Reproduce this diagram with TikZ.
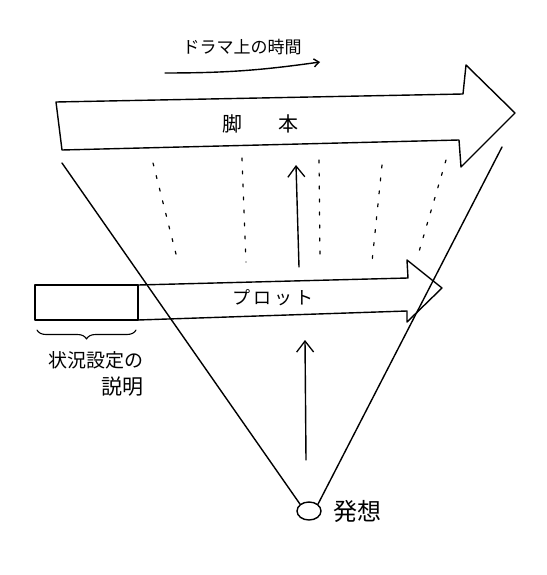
\documentclass[tikz,border=0pt]{standalone}
\usepackage{fontspec}
\setmainfont{Noto Sans CJK JP}
\usetikzlibrary{arrows.meta,positioning,decorations.pathreplacing,calc,shapes.geometric}

\begin{document}
\begin{tikzpicture}[
        x=1pt, y=-1pt,
        line width=1.4pt, line join=round, line cap=round,
        txt/.style={inner sep=1pt, font=\fontsize{#1}{#1}\selectfont},
        txt/.default=18,
        barb/.style={-{Straight Barb[length=11pt,width=17pt,line width=1.3pt]}},
        guide/.style={line width=1.2pt, dash pattern=on 3pt off 10pt}
    ]
        \useasboundingbox (0,0) rectangle (546,575);

        % time axis
        \node[txt=17] (time) at (242,47) {ドラマ上の時間};
        \coordinate (t1) at (165,73);
        \coordinate (t2) at (320,62);
        \draw[-{Straight Barb[length=5pt,width=8pt]}] (t1) to[bend right=4] (t2);

        % script arrow
        \draw (56,102) -- (463,94) -- (466,65) -- (515,113) -- (461,167) -- (459,140) -- (62,150) -- cycle;
        \node[txt=20] (script) at (260,124) {脚\hspace{1.8em}本};

        % plot arrow and setup box
        \draw (35,285) rectangle (138,320);
        \draw (138,285) -- (408,278) -- (407,260) -- (442,288) -- (407,322) -- (407,311) -- (138,320);
        \node[txt=18] (plot) at (273,298) {プ\,ロ\,ッ\,ト};
        \draw[decorate, decoration={brace, mirror, amplitude=9pt}, line width=1.1pt] (37,330) -- (136,330);
        \node[txt=19] (setup) at (96,360) {状況設定の};
        \node[txt=21, below=5pt of setup.south east, anchor=north east] (expl) {説明};

        % idea and cone
        \node[draw, ellipse, minimum width=24pt, minimum height=18pt, inner sep=0pt] (idea) at (309,511) {};
        \node[txt=24, right=10pt of idea] (ideatxt) {発想};
        \coordinate (coneL) at (62,163);
        \coordinate (coneR) at (502,147);
        \draw (idea.north west) -- (coneL);
        \draw (idea.north east) -- (coneR);

        % upward arrows
        \coordinate (up1) at (306,460);
        \coordinate (up2) at (305,340);
        \coordinate (up3) at (299,267);
        \coordinate (up4) at (296,165);
        \draw[barb] (up1) -- (up2);
        \draw[barb] (up3) -- (up4);

        % guide lines
        \draw[guide] (153,163) -- (177,258);
        \draw[guide] (242,158) -- (246,262);
        \draw[guide] (319,160) -- (320,258);
        \draw[guide] (382,165) -- (372,262);
        \draw[guide] (446,160) -- (418,255);
    \end{tikzpicture}
\end{document}
